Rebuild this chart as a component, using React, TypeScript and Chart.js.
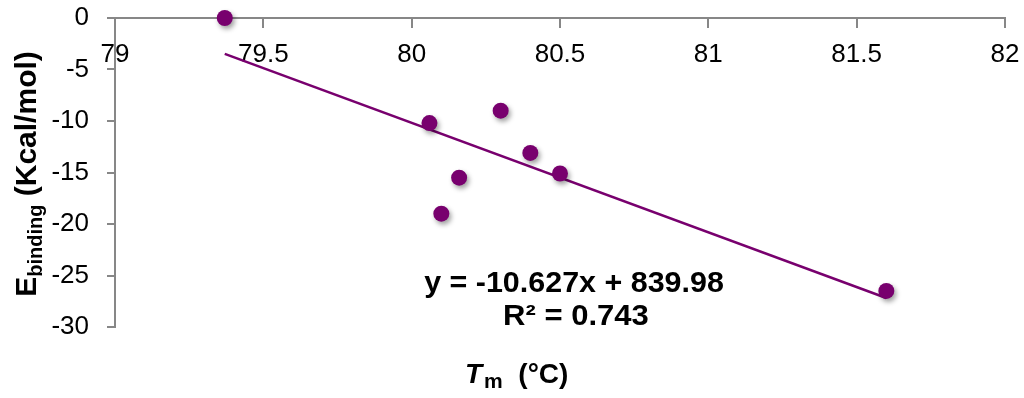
import { useEffect, useRef } from 'react';
import { Chart, registerables } from 'chart.js';

Chart.register(...registerables);

// ---- data ----
const tmValues = [79.37, 80.06, 80.3, 80.4, 80.5, 80.16, 80.1, 81.6];
const bindingEnergies = [0, -10.2, -9.0, -13.1, -15.1, -15.5, -19.0, -26.5];
const xTickValues = [79, 79.5, 80, 80.5, 81, 81.5, 82];
const yTickValues = [0, -5, -10, -15, -20, -25, -30];
const trendSlope = -10.627;
const trendIntercept = 839.98;
const rSquared = 0.743;

const FONT = '"Liberation Sans", Arial, sans-serif';
const PURPLE = '#78006E';
const AXIS = '#878787';

const eqLine1 = `y = ${trendSlope}x + ${trendIntercept}`;
const eqLine2 = `R² = ${rSquared}`;

function drawStretched(ctx: CanvasRenderingContext2D, text: string, cx: number, baseline: number, font: string, sx: number) {
  ctx.save();
  ctx.font = font;
  ctx.textBaseline = 'alphabetic';
  ctx.textAlign = 'left';
  const w = ctx.measureText(text).width * sx;
  ctx.translate(cx - w / 2, baseline);
  ctx.scale(sx, 1);
  ctx.fillText(text, 0, 0);
  ctx.restore();
}

const textPlugin = {
  id: 'customText',
  afterDraw(chart: any) {
    const ctx: CanvasRenderingContext2D = chart.ctx;
    ctx.save();
    ctx.fillStyle = '#000';

    // trendline equation
    drawStretched(ctx, eqLine1, 574, 292, `bold 29px ${FONT}`, 1.05);
    drawStretched(ctx, eqLine2, 576, 325, `bold 29px ${FONT}`, 1.07);

    // x title: T_m  (°C)
    ctx.textBaseline = 'alphabetic';
    ctx.textAlign = 'left';
    let x = 465;
    ctx.font = `italic bold 28px ${FONT}`;
    ctx.fillText('T', x, 383);
    x += ctx.measureText('T').width + 2;
    ctx.font = `bold 21px ${FONT}`;
    ctx.fillText('m', x, 388);
    x += ctx.measureText('m').width;
    ctx.font = `bold 28px ${FONT}`;
    ctx.fillText('  (°C)', x, 383);

    // y title: E_binding (Kcal/mol), rotated
    ctx.save();
    ctx.translate(36, 174);
    ctx.rotate(-Math.PI / 2);
    const bigFont = `bold 30px ${FONT}`;
    const subFont = `bold 20px ${FONT}`;
    ctx.font = bigFont;
    const wE = ctx.measureText('E').width;
    const wRest = ctx.measureText(' (Kcal/mol)').width;
    ctx.font = subFont;
    const wSub = ctx.measureText('binding').width;
    let u = -(wE + wSub + wRest) / 2;
    ctx.font = bigFont;
    ctx.fillText('E', u, 0);
    u += wE;
    ctx.font = subFont;
    ctx.fillText('binding', u, 6);
    u += wSub;
    ctx.font = bigFont;
    ctx.fillText(' (Kcal/mol)', u, 0);
    ctx.restore();

    ctx.restore();
  },
};

const shadowPlugin = {
  id: 'pointShadow',
  beforeDatasetDraw(chart: any, args: any) {
    if (args.index !== 1) return;
    const ctx = chart.ctx;
    ctx.save();
    ctx.shadowColor = 'rgba(0,0,0,0.38)';
    ctx.shadowBlur = 5;
    ctx.shadowOffsetX = 2;
    ctx.shadowOffsetY = 3;
  },
  afterDatasetDraw(chart: any, args: any) {
    if (args.index !== 1) return;
    chart.ctx.restore();
  },
};

function zeroPadding(s: any) {
  s.paddingLeft = 0;
  s.paddingRight = 0;
  s.paddingTop = 0;
  s.paddingBottom = 0;
}

export default function App() {
  const canvasRef = useRef<HTMLCanvasElement | null>(null);

  useEffect(() => {
    if (!canvasRef.current) return;
    const xMin = Math.min(...tmValues);
    const xMax = Math.max(...tmValues);
    const trendPoints = [
      { x: xMin, y: trendSlope * xMin + trendIntercept },
      { x: xMax, y: trendSlope * xMax + trendIntercept },
    ];
    const points = tmValues.map((x, i) => ({ x, y: bindingEnergies[i] }));

    const chart = new Chart(canvasRef.current, {
      type: 'scatter',
      data: {
        datasets: [
          {
            type: 'line',
            label: 'Linear fit',
            data: trendPoints,
            borderColor: PURPLE,
            borderWidth: 2.5,
            pointRadius: 0,
            fill: false,
            clip: false,
            order: 2,
          } as any,
          {
            label: 'Ebinding',
            data: points,
            backgroundColor: PURPLE,
            borderColor: PURPLE,
            borderWidth: 0,
            pointRadius: 8,
            pointHoverRadius: 8,
            clip: false,
            order: 1,
          } as any,
        ],
      },
      options: {
        animation: false,
        responsive: true,
        maintainAspectRatio: false,
        layout: { padding: { top: 18, right: 19, left: 0, bottom: 71 } },
        plugins: {
          legend: { display: false },
          tooltip: { enabled: false },
        },
        scales: {
          x: {
            type: 'linear',
            axis: 'x',
            min: 79,
            max: 82,
            position: { y: 0 } as any,
            afterBuildTicks: (s: any) => {
              s.ticks = xTickValues.map((value) => ({ value }));
            },
            afterFit: (s: any) => {
              zeroPadding(s);
            },
            grid: {
              display: true,
              drawOnChartArea: false,
              drawTicks: true,
              tickLength: 9,
              color: AXIS,
              lineWidth: 2,
            },
            border: { display: true, color: AXIS, width: 2 },
            ticks: {
              color: '#000',
              font: { family: FONT, size: 26 },
              padding: 12,
              maxRotation: 0,
              autoSkip: false,
              callback: (v: any) => String(v),
            },
          } as any,
          y: {
            type: 'linear',
            min: -30,
            max: 0,
            position: 'left',
            afterBuildTicks: (s: any) => {
              s.ticks = yTickValues.map((value) => ({ value }));
            },
            afterFit: (s: any) => {
              s.width = 115;
              zeroPadding(s);
            },
            grid: {
              display: true,
              drawOnChartArea: false,
              drawTicks: true,
              tickLength: 8,
              color: AXIS,
              lineWidth: 2,
            },
            border: { display: true, color: AXIS, width: 2 },
            ticks: {
              color: '#000',
              font: { family: FONT, size: 26 },
              padding: 18,
              autoSkip: false,
              callback: (v: any) => String(v),
            },
          } as any,
        },
      },
      plugins: [shadowPlugin, textPlugin],
    });
    return () => chart.destroy();
  }, []);

  return (
    <div style={{ position: 'fixed', left: 0, top: 0, width: 1024, height: 398, background: '#fff' }}>
      <canvas ref={canvasRef} />
    </div>
  );
}
